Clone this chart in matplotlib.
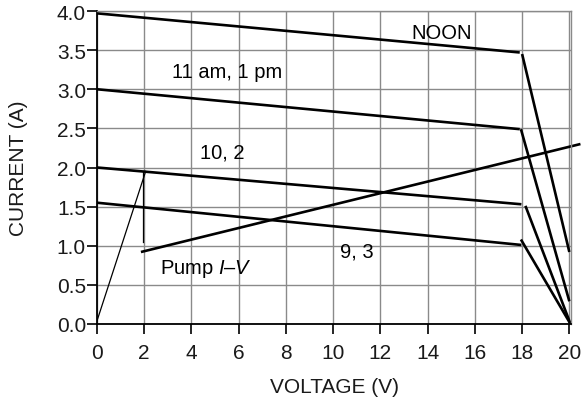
import matplotlib
matplotlib.use("Agg")
import matplotlib.pyplot as plt

plt.rcParams['font.family'] = ['Liberation Sans', 'DejaVu Sans']
plt.rcParams['mathtext.fontset'] = 'custom'
plt.rcParams['mathtext.rm'] = 'Liberation Sans'
plt.rcParams['mathtext.it'] = 'Liberation Sans:italic'

# panel curves: flat part and knee drop for each time of day
noon_v = [0, 17.9]
noon_i = [3.97, 3.47]
noon_drop_v = [18.0, 20.0]
noon_drop_i = [3.45, 0.92]

am11_v = [0, 17.9]
am11_i = [3.0, 2.49]
am11_drop_v = [17.95, 20.0]
am11_drop_i = [2.49, 0.29]

am10_v = [0, 17.97]
am10_i = [2.0, 1.53]
am10_drop_v = [18.14, 20.05]
am10_drop_i = [1.51, 0.0]

am9_v = [0, 17.97]
am9_i = [1.55, 1.01]
am9_drop_v = [17.95, 20.05]
am9_drop_i = [1.08, 0.0]

# pump load line
pump_start_v = [0, 2.06]
pump_start_i = [0.04, 1.95]
pump_step_v = [1.96, 1.96]
pump_step_i = [1.95, 1.05]
pump_v = [1.86, 20.47]
pump_i = [0.92, 2.30]

xticks = list(range(0, 21, 2))
yticks = [0.0, 0.5, 1.0, 1.5, 2.0, 2.5, 3.0, 3.5, 4.0]

fig = plt.figure(figsize=(5.81, 4.02), dpi=100)
ax = fig.add_axes([97/581, 77/402, 474/581, 313/402])

thick = dict(color='black', lw=1.9, solid_capstyle='butt')
for v, i in [(noon_v, noon_i), (noon_drop_v, noon_drop_i),
             (am11_v, am11_i), (am11_drop_v, am11_drop_i),
             (am10_v, am10_i), (am10_drop_v, am10_drop_i),
             (am9_v, am9_i), (am9_drop_v, am9_drop_i)]:
    ax.plot(v, i, **thick)

ax.plot(pump_start_v, pump_start_i, color='black', lw=0.9)
ax.plot(pump_step_v, pump_step_i, color='black', lw=0.9)
ax.plot(pump_v, pump_i, clip_on=False, **thick)

ax.set_xlim(0, 20.07)
ax.set_ylim(0, 4.0)
ax.set_xticks(xticks)
ax.set_xticklabels([str(t) for t in xticks])
ax.set_yticks(yticks)
ax.set_yticklabels([f"{t:.1f}" for t in yticks])
ax.grid(True, color='#8a8a8a', lw=1.0)
ax.set_axisbelow(True)

for s in ['top', 'right']:
    ax.spines[s].set_color('#8a8a8a')
    ax.spines[s].set_linewidth(1.0)
for s in ['left', 'bottom']:
    ax.spines[s].set_color('black')
    ax.spines[s].set_linewidth(1.3)

fs = 15
ax.tick_params(axis='both', direction='out', length=7, width=1.2,
               labelsize=fs, color='black', labelcolor='#1a1a1a')
ax.tick_params(axis='x', pad=7)
ax.tick_params(axis='y', pad=1)

ax.set_xlabel('VOLTAGE (V)', fontsize=fs, color='#1a1a1a')
ax.set_ylabel('CURRENT (A)', fontsize=fs, color='#1a1a1a')
ax.xaxis.set_label_coords(0.502, -0.168)
ax.yaxis.set_label_coords(-0.145, 0.5)

afs = 14.5
ax.text(14.6, 3.72, 'NOON', fontsize=afs, ha='center', va='center')
ax.text(5.5, 3.23, '11 am, 1 pm', fontsize=afs, ha='center', va='center')
ax.text(5.3, 2.2, '10, 2', fontsize=afs, ha='center', va='center')
ax.text(11.0, 0.93, '9, 3', fontsize=afs, ha='center', va='center')
ax.text(2.65, 0.72, 'Pump $I$\u2013$V$', fontsize=afs, ha='left', va='center')

fig.savefig('out.png', dpi=100)
